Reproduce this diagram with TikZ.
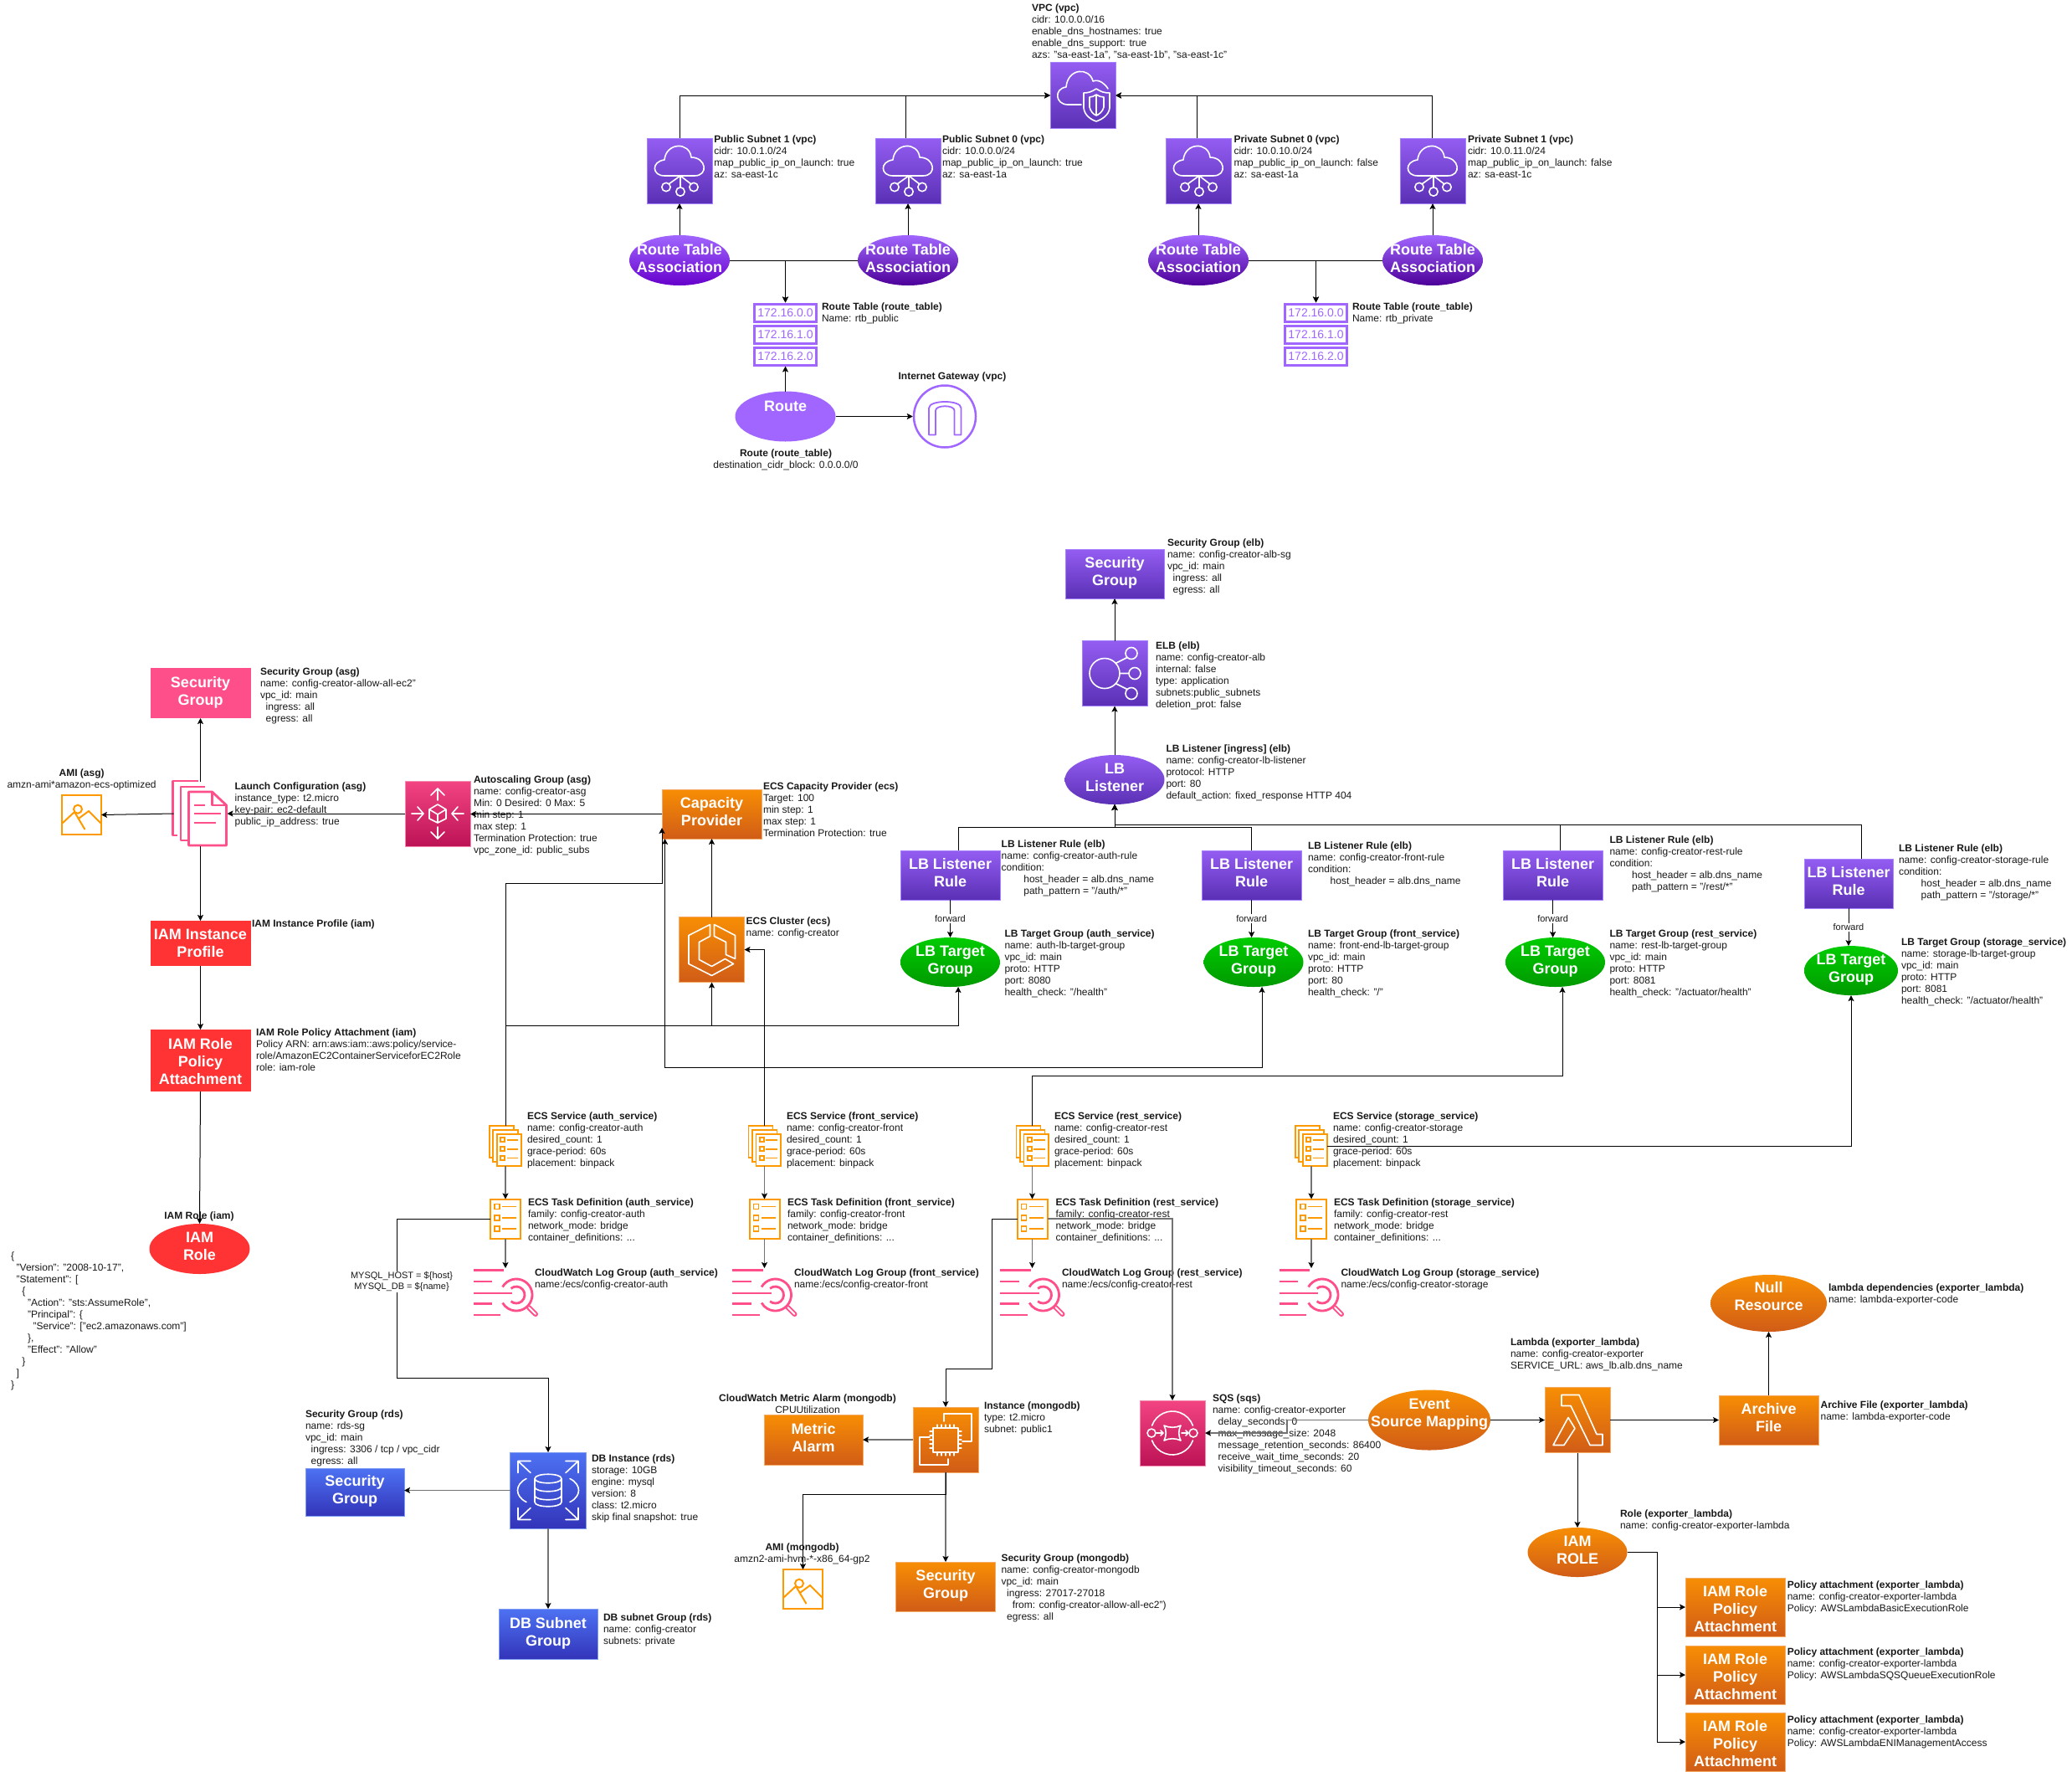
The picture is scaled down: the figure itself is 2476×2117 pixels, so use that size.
\documentclass[tikz,border=0pt]{standalone}
\usepackage{fontspec}
\setmainfont{Liberation Sans}
\usetikzlibrary{arrows.meta,shapes.geometric}
\definecolor{purT}{HTML}{945DF2}\definecolor{purB}{HTML}{5A30B5}\definecolor{purL}{HTML}{A680FF}
\definecolor{purS}{HTML}{A166FF}
\definecolor{asT}{HTML}{A166FF}\definecolor{asB}{HTML}{6600CC}\definecolor{asC}{HTML}{4C0099}
\definecolor{orT}{HTML}{F78E04}\definecolor{orB}{HTML}{D05C17}\definecolor{orL}{HTML}{F5AB66}
\definecolor{piT}{HTML}{F34482}\definecolor{piB}{HTML}{BC1356}\definecolor{piL}{HTML}{F58AB0}
\definecolor{blT}{HTML}{4D72F3}\definecolor{blB}{HTML}{3334B9}\definecolor{blL}{HTML}{7F9CF5}
\definecolor{grT}{HTML}{00CC00}\definecolor{grB}{HTML}{009900}
\definecolor{redS}{HTML}{FF3333}\definecolor{pinkS}{HTML}{FF4F8B}\definecolor{awsO}{HTML}{FF9900}
\newcommand{\ind}{\hspace*{6.67pt}}
\tikzset{
 x=1pt,y=-1pt,
 lbl/.style={anchor=north west,inner sep=0pt,outer sep=0pt,align=left,text=black!90,yshift=-2.5pt,font=\fontsize{12}{14}\selectfont,execute at begin node={\rule{0pt}{10.5pt}}},
 lblc/.style={lbl,anchor=north,align=center},
 stxt/.style={inner sep=0pt,align=center,text=white,font=\fontsize{18}{21}\selectfont\bfseries,yshift=1pt,execute at begin node={\rule{0pt}{13pt}},execute at end node={\rule[-4pt]{0pt}{4pt}}},
 rbox/.style={rectangle,inner sep=0pt,outer sep=0pt},
 ell/.style={ellipse,inner sep=0pt,outer sep=0pt},
 hold/.style={rectangle,inner sep=0pt,outer sep=0pt},
 gpur/.style={top color=purT,bottom color=purB,draw=purL,line width=1pt},
 gass/.style={top color=asT,bottom color=asC},
 gora/.style={top color=orT,bottom color=orB,draw=orL,line width=1pt},
 gpin/.style={top color=piT,bottom color=piB,draw=piL,line width=1pt},
 gblu/.style={top color=blT,bottom color=blB,draw=blL,line width=1pt},
 ggre/.style={top color=grT,bottom color=grB},
 conn/.style={draw=black,line width=1pt,-{Stealth[length=7pt,width=7pt,inset=1.5pt]}},
 gconn/.style={draw=black!55,line width=1.6pt,-{Stealth[length=7pt,width=7pt,inset=1.5pt,color=black]}},
 flab/.style={fill=white,inner sep=1pt,text=black!90,font=\fontsize{11}{13}\selectfont},
 rtb/.style={rectangle,inner sep=0pt,draw=purS,line width=3pt,minimum width=74,minimum height=21,text=purS,font=\fontsize{14}{16}\selectfont},
 gl/.style={draw=white,line width=1.6pt,line join=round,line cap=round},
 ol/.style={draw=awsO,line width=2pt,line join=miter},
 pl/.style={draw=pinkS,line width=2.8pt,line join=round},
 subnetglyph/.pic={
  \draw[gl] (-18,6) .. controls (-33,6) and (-34,-11) .. (-18,-13) .. controls (-16,-34) and (12,-35) .. (14,-16) .. controls (32,-16) and (35,6) .. (18,6) -- cycle;
  \draw[gl] (1,6) -- (-13,16) (1,6) -- (14,16) (1,6) -- (1,19);
  \draw[gl] (-16,19.5) circle (5.2) (17,19.5) circle (5.2) (1,25) circle (5.2);
 },
 vpcglyph/.pic={
  \draw[gl] (-2,11) -- (-18,11) .. controls (-33,11) and (-35,-8) .. (-20,-10) .. controls (-18,-33) and (8,-34) .. (12,-17) .. controls (20,-20) and (27,-13) .. (30,-8);
  \draw[gl] (16,-8) .. controls (10,-4) and (6,-3) .. (1,-3) -- (1,15) .. controls (2,24) and (10,29) .. (16,31) .. controls (22,29) and (31,24) .. (32,15) -- (32,-3) .. controls (26,-3) and (22,-4) .. (16,-8) -- cycle;
  \draw[gl] (16,-1) .. controls (13,1) and (11,2) .. (8,2) -- (8,14) .. controls (9,19) and (13,23) .. (16,24) .. controls (19,23) and (24,19) .. (25,14) -- (25,2) .. controls (22,2) and (19,1) .. (16,-1) -- cycle (16,-1) -- (16,24);
 },
 elbglyph/.pic={
  \draw[gl] (-12,0) circle (18) (20,-24) circle (7) (24,0) circle (7) (20,24) circle (7);
  \draw[gl] (1,-12) -- (15,-19) (6,0) -- (17,0) (1,12) -- (15,19);
 },
 ecsglyph/.pic={
  \draw[gl] (-2,-30) -- (-27.5,-17) -- (-27.5,17) -- (0,31) -- (26,17) -- (16,11) -- (0,20) -- (-15,12) -- (-15,-9) -- (-2,-16) -- cycle;
  \draw[gl] (3,-30) -- (28,-17) -- (28,11) -- (17,6) -- (17,-9) -- (3,-16) -- cycle;
 },
 ec2glyph/.pic={
  \draw[gl] (-2,-22) -- (-2,-31) -- (31,-31) -- (31,2) -- (20,2);
  \draw[gl] (-19,-3) -- (-31,-3) -- (-31,30) -- (3,30) -- (3,23);
  \draw[gl] (-15,-14) rectangle (15,15);
  \foreach \t in {-10,-5,0,5,10}{\draw[gl,line width=1.2pt] (\t,-14) -- (\t,-18) (\t,15) -- (\t,19) (-15,\t) -- (-19,\t) (15,\t) -- (19,\t);}
 },
 rdsglyph/.pic={
  \draw[gl] (-16,-14) .. controls (-16,-21) and (16,-21) .. (16,-14) .. controls (16,-7) and (-16,-7) .. (-16,-14) -- (-16,14) .. controls (-16,21) and (16,21) .. (16,14) -- (16,-14);
  \draw[gl] (-16,-4) .. controls (-16,3) and (16,3) .. (16,-4) (-16,6) .. controls (-16,13) and (16,13) .. (16,6);
  \draw[gl] (-26,-14) .. controls (-40,-7) and (-40,7) .. (-26,14) (26,-14) .. controls (40,-7) and (40,7) .. (26,14);
  \foreach \sx/\sy in {-1/-1,1/-1,-1/1,1/1}{\draw[gl] (\sx*36,\sy*21) -- (\sx*36,\sy*35) -- (\sx*21,\sy*35) (\sx*36,\sy*35) -- (\sx*21,\sy*21);}
 },
 sqsglyph/.pic={
  \draw[gl] (-25,0) circle (5) (25,0) circle (5);
  \draw[gl] (-10,-9) .. controls (-4,-6) and (4,-6) .. (10,-9) .. controls (7,-3) and (7,3) .. (10,9) .. controls (4,6) and (-4,6) .. (-10,9) .. controls (-7,3) and (-7,-3) .. (-10,-9) -- cycle;
  \draw[gl] (-19,0) -- (-11,0) (-14,-3) -- (-11,0) -- (-14,3) (11,0) -- (19,0) (16,-3) -- (19,0) -- (16,3);
  \draw[gl] (200:26) arc (200:340:26) (20:26) arc (20:160:26);
 },
 lambdaglyph/.pic={
  \draw[gl] (-19,-30) -- (2,-30) -- (23,17) -- (30,17) -- (30,30) -- (15,30) -- (-8,-17) -- (-19,-17) -- cycle;
  \draw[gl] (-29,30) -- (-11,-3) -- (-3,10) -- (-16,30) -- cycle;
 },
 asgglyph/.pic={
  \draw[gl] (0,-11) -- (10,-5) -- (10,6) -- (0,11) -- (-10,6) -- (-10,-5) -- cycle (-10,-5) -- (0,1) -- (10,-5) (0,1) -- (0,11);
  \draw[gl] (0,-16) -- (0,-30) (-8,-22) -- (0,-30) -- (8,-22) (0,16) -- (0,30) (-8,22) -- (0,30) -- (8,22);
  \draw[gl] (-31,0) -- (-17,0) (-24,-8) -- (-17,0) -- (-24,8) (31,0) -- (17,0) (24,-8) -- (17,0) -- (24,8);
 },
 docsglyph/.pic={
  \draw[pl] (-2.6,-39) -- (-33,-39) -- (-33,26) -- (-28,26);
  \draw[pl] (5,-32) -- (-23.5,-32) -- (-23.5,32) -- (-14,32);
  \draw[pl,fill=white] (-14,-26) -- (14,-26) -- (31,-10) -- (31,38) -- (-14,38) -- cycle;
  \draw[pl] (14,-26) -- (14,-10) -- (31,-10);
  \draw[pl] (-8,-10) -- (5,-10) (-8,0) -- (24,0) (-8,11) -- (18,11);
 },
 amiglyph/.pic={
  \draw[ol] (-23.5,-23.5) rectangle (23.5,23.5);
  \draw[ol] (-4.5,-6.8) circle (5);
  \draw[ol] (-23,10) -- (-8.5,-3.5) -- (4,17.5) (-3,4) -- (8.5,-4.5) -- (23,10);
 },
 svcglyph/.pic={
  \draw[ol,line width=1.8pt,fill=white] (-19,-24) rectangle (10,14);
  \draw[ol,line width=1.8pt,fill=white] (-14.7,-19) rectangle (15,19);
  \draw[ol,line width=1.8pt,fill=white] (-10,-14) rectangle (19.3,24);
  \foreach \q in {-7.3,3.7,14.5}{\draw[ol,line width=1.6pt] (-5.8,\q-2.5) rectangle (-0.8,\q+2.5) (1.5,\q) -- (15,\q);}
 },
 taskglyph/.pic={
  \draw[ol] (-18,-23.5) rectangle (18,23.5);
  \foreach \q in {-14.5,-1,12}{\draw[ol,line width=1.8pt] (-13,\q-3) rectangle (-7,\q+3) (-4,\q) -- (13,\q);}
 },
 logglyph/.pic={
  \draw[pl] (-38.5,-26.7) -- (-2,-26.7) (-38.5,-13) -- (-16,-13) (-38.5,1) -- (8,1) (-38.5,13.7) -- (-16,13.7) (-38.5,27) -- (-6,27);
  \draw[pl] (13,3) ++(210:19) arc (210:510:19);
  \draw[pl] (13,3) ++(230:10) arc (230:490:10);
  \draw[draw=pinkS,line width=6pt,line cap=round] (28,18) -- (36,26);
  \draw[draw=white,line width=2pt,line cap=round] (28,18) -- (36,26);
 },
 igwglyph/.pic={
  \draw[draw=purS,line width=1.8pt,line join=round] (-19,22) -- (-19,-10) .. controls (-19,-20) and (19.5,-20) .. (19.5,-10) -- (19.5,22) -- (11.5,22) -- (11.5,-7) .. controls (11.5,-14) and (-11,-14) .. (-11,-7) -- (-11,22) -- cycle;
 },
}
\begin{document}
\begin{tikzpicture}
\path[use as bounding box,fill=white] (0,0) rectangle (2476,2117);

% ---------- VPC section
\node[rbox,gpur,minimum width=78,minimum height=78] (vpc) at (1294,114) {};
\pic at (vpc) {vpcglyph};
\foreach \n/\xx in {sub1/812,sub0/1085,pr0/1432,pr1/1712}{
 \node[rbox,gpur,minimum width=78,minimum height=78] (\n) at (\xx,204) {};
 \pic at (\n) {subnetglyph};
}
\node[ell,top color=asT,bottom color=asB,minimum width=120,minimum height=60,label={[stxt]center:Route Table\\Association}] (a1) at (812,311) {};
\node[ell,gass,minimum width=120,minimum height=60,label={[stxt]center:Route Table\\Association}] (a2) at (1085,311) {};
\node[ell,gass,minimum width=120,minimum height=60,label={[stxt]center:Route Table\\Association}] (a3) at (1432,311) {};
\node[ell,gass,minimum width=120,minimum height=60,label={[stxt]center:Route Table\\Association}] (a4) at (1712,311) {};
\node[rtb] (rp0) at (938.5,373.5) {172.16.0.0};
\node[rtb] (rp1) at (938.5,399.5) {172.16.1.0};
\node[rtb] (rp2) at (938.5,425.5) {172.16.2.0};
\node[rtb] (rq0) at (1572.5,373.5) {172.16.0.0};
\node[rtb] (rq1) at (1572.5,399.5) {172.16.1.0};
\node[rtb] (rq2) at (1572.5,425.5) {172.16.2.0};
\node[ell,fill=purS,minimum width=120,minimum height=60,label={[stxt,yshift=10pt]center:Route}] (route) at (938.5,497.5) {};
\node[circle,inner sep=0pt,draw=purS,line width=2.5pt,minimum size=74] (igw) at (1129,497.5) {};
\pic at (igw) {igwglyph};

\node[lbl] (tvpc) at (1233,2) {\textbf{VPC (vpc)}\\cidr: 10.0.0.0/16\\enable\_dns\_hostnames: true\\enable\_dns\_support: true\\azs: "sa-east-1a", "sa-east-1b", "sa-east-1c"};
\node[lbl] (tsub1) at (853.4,159) {\textbf{Public Subnet 1 (vpc)}\\cidr: 10.0.1.0/24\\map\_public\_ip\_on\_launch: true\\az: sa-east-1c};
\node[lbl] (tsub0) at (1126,159) {\textbf{Public Subnet 0 (vpc)}\\cidr: 10.0.0.0/24\\map\_public\_ip\_on\_launch: true\\az: sa-east-1a};
\node[lbl] (tpr0) at (1474.5,159) {\textbf{Private Subnet 0 (vpc)}\\cidr: 10.0.10.0/24\\map\_public\_ip\_on\_launch: false\\az: sa-east-1a};
\node[lbl] (tpr1) at (1754,159) {\textbf{Private Subnet 1 (vpc)}\\cidr: 10.0.11.0/24\\map\_public\_ip\_on\_launch: false\\az: sa-east-1c};
\node[lbl] (trp) at (982,359) {\textbf{Route Table (route\_table)}\\Name: rtb\_public};
\node[lbl] (trq) at (1616,359) {\textbf{Route Table (route\_table)}\\Name: rtb\_private};
\node[lblc,yshift=2.5pt] (tigw) at (1138,443) {\textbf{Internet Gateway (vpc)}};
\node[lblc] (troute) at (939,534) {\textbf{Route (route\_table)}\\destination\_cidr\_block: 0.0.0.0/0};

% ---------- ASG / IAM section
\node[rbox,fill=pinkS,minimum width=120,minimum height=60,label={[stxt]center:Security\\Group}] (sgasg) at (239.5,828) {};
\node[hold,minimum width=47,minimum height=47] (amiasg) at (97.5,973.5) {};
\pic at (amiasg) {amiglyph};
\node[hold,minimum width=64,minimum height=77] (launch) at (239.5,972) {};
\pic at (launch) {docsglyph};
\node[rbox,gpin,minimum width=78,minimum height=78] (asg) at (523,972) {};
\pic at (asg) {asgglyph};
\node[rbox,gora,minimum width=119,minimum height=59,label={[stxt]center:Capacity\\Provider}] (cp) at (850.5,972.5) {};
\node[rbox,gora,minimum width=78,minimum height=78] (cluster) at (850.5,1134.5) {};
\pic at (cluster) {ecsglyph};
\node[rbox,fill=redS,minimum width=120,minimum height=54,label={[stxt,yshift=-3pt]center:IAM Instance\\Profile}] (iamip) at (239.5,1127) {};
\node[rbox,fill=redS,minimum width=120,minimum height=74,label={[stxt,yshift=-4pt]center:IAM Role\\Policy\\Attachment}] (rpa) at (239.5,1267) {};
\node[ell,fill=redS,minimum width=120,minimum height=60,label={[stxt]center:IAM\\Role}] (iamrole) at (238.5,1492) {};

\node[lbl] (tsgasg) at (311,795) {\textbf{Security Group (asg)}\\name: config-creator-allow-all-ec2"\\vpc\_id: main\\\ind ingress: all\\\ind egress: all};
\node[lblc] (tamiasg) at (97.6,916.5) {\textbf{AMI (asg)}\\amzn-ami*amazon-ecs-optimized};
\node[lbl] (tlaunch) at (280.6,932) {\textbf{Launch Configuration (asg)}\\instance\_type: t2.micro\\key-pair: ec2-default\\public\_ip\_address: true};
\node[lbl] (tasg) at (566,924.5) {\textbf{Autoscaling Group (asg)}\\name: config-creator-asg\\Min: 0 Desired: 0 Max: 5\\min step: 1\\max step: 1\\Termination Protection: true\\vpc\_zone\_id: public\_subs};
\node[lbl] (tcp) at (912,932) {\textbf{ECS Capacity Provider (ecs)}\\Target: 100\\min step: 1\\max step: 1\\Termination Protection: true};
\node[lbl] (tcluster) at (891.6,1093) {\textbf{ECS Cluster (ecs)}\\name: config-creator};
\node[lbl,yshift=2.5pt] (tiamip) at (301,1097) {\textbf{IAM Instance Profile (iam)}};
\node[lbl] (trpa) at (306,1226.5) {\textbf{IAM Role Policy Attachment (iam)}\\Policy ARN: arn:aws:iam::aws:policy/service-\\role/AmazonEC2ContainerServiceforEC2Role\\role: iam-role};
\node[lblc,yshift=2.5pt] (tiamrole) at (238,1446) {\textbf{IAM Role (iam)}};
\node[lbl] (tjson) at (13,1493) {\{\\\ind "Version": "2008-10-17",\\\ind "Statement": [\\\ind\ind \{\\\ind\ind\ind "Action": "sts:AssumeRole",\\\ind\ind\ind "Principal": \{\\\ind\ind\ind\ind "Service": ["ec2.amazonaws.com"]\\\ind\ind\ind \},\\\ind\ind\ind "Effect": "Allow"\\\ind\ind \}\\\ind ]\\\}};

% ---------- LB section
\node[rbox,gpur,minimum width=118,minimum height=59,label={[stxt]center:Security\\Group}] (sgelb) at (1332,685.5) {};
\node[rbox,gpur,minimum width=78,minimum height=78] (elb) at (1332,804.5) {};
\pic at (elb) {elbglyph};
\node[ell,top color=purT,bottom color=purB,minimum width=119,minimum height=59,label={[stxt]center:LB\\Listener}] (listener) at (1332,931.5) {};
\node[rbox,gpur,minimum width=119,minimum height=59,label={[stxt]center:LB Listener\\Rule}] (ruleauth) at (1135.5,1045.5) {};
\node[rbox,gpur,minimum width=119,minimum height=59,label={[stxt]center:LB Listener\\Rule}] (rulefront) at (1495.6,1045.5) {};
\node[rbox,gpur,minimum width=119,minimum height=59,label={[stxt]center:LB Listener\\Rule}] (rulerest) at (1855.6,1045.5) {};
\node[rbox,gpur,minimum width=106,minimum height=59,label={[stxt]center:LB Listener\\Rule}] (rulest) at (2209,1055.5) {};
\node[ell,ggre,minimum width=119,minimum height=59,label={[stxt]center:LB Target\\Group}] (tgauth) at (1135.5,1149.5) {};
\node[ell,ggre,minimum width=119,minimum height=59,label={[stxt]center:LB Target\\Group}] (tgfront) at (1498,1149.5) {};
\node[ell,ggre,minimum width=119,minimum height=59,label={[stxt]center:LB Target\\Group}] (tgrest) at (1858.5,1149.5) {};
\node[ell,ggre,minimum width=112,minimum height=59,label={[stxt]center:LB Target\\Group}] (tgst) at (2212,1159.6) {};

\node[lbl] (tsgelb) at (1395,641.7) {\textbf{Security Group (elb)}\\name: config-creator-alb-sg\\vpc\_id: main\\\ind ingress: all\\\ind egress: all};
\node[lbl] (telb) at (1381,764) {\textbf{ELB (elb)}\\name: config-creator-alb\\internal: false\\type: application\\subnets:public\_subnets\\deletion\_prot: false};
\node[lbl] (tlistener) at (1393.5,887.7) {\textbf{LB Listener [ingress] (elb)}\\name: config-creator-lb-listener\\protocol: HTTP\\port: 80\\default\_action: fixed\_response HTTP 404};
\node[lbl] (truleauth) at (1196.7,1001.5) {\textbf{LB Listener Rule (elb)}\\name: config-creator-auth-rule\\condition:\\\ind\ind\ind\ind host\_header = alb.dns\_name\\\ind\ind\ind\ind path\_pattern = "/auth/*"};
\node[lbl] (trulefront) at (1563,1003.7) {\textbf{LB Listener Rule (elb)}\\name: config-creator-front-rule\\condition:\\\ind\ind\ind\ind host\_header = alb.dns\_name};
\node[lbl] (trulerest) at (1923.5,996.6) {\textbf{LB Listener Rule (elb)}\\name: config-creator-rest-rule\\condition:\\\ind\ind\ind\ind host\_header = alb.dns\_name\\\ind\ind\ind\ind path\_pattern = "/rest/*"};
\node[lbl] (trulest) at (2269,1006.4) {\textbf{LB Listener Rule (elb)}\\name: config-creator-storage-rule\\condition:\\\ind\ind\ind\ind host\_header = alb.dns\_name\\\ind\ind\ind\ind path\_pattern = "/storage/*"};
\node[lbl] (ttgauth) at (1200.5,1108.6) {\textbf{LB Target Group (auth\_service)}\\name: auth-lb-target-group\\vpc\_id: main\\proto: HTTP\\port: 8080\\health\_check: "/health"};
\node[lbl] (ttgfront) at (1563,1108.6) {\textbf{LB Target Group (front\_service)}\\name: front-end-lb-target-group\\vpc\_id: main\\proto: HTTP\\port: 80\\health\_check: "/"};
\node[lbl] (ttgrest) at (1923.5,1108.6) {\textbf{LB Target Group (rest\_service)}\\name: rest-lb-target-group\\vpc\_id: main\\proto: HTTP\\port: 8081\\health\_check: "/actuator/health"};
\node[lbl] (ttgst) at (2272,1118.5) {\textbf{LB Target Group (storage\_service)}\\name: storage-lb-target-group\\vpc\_id: main\\proto: HTTP\\port: 8081\\health\_check: "/actuator/health"};

% ---------- ECS services
\foreach \n/\xs in {auth/604,front/913.5,rest/1233.5,st/1567}{
 \node[hold,minimum width=38,minimum height=48] (svc\n) at (\xs,1369) {};
 \pic at (svc\n) {svcglyph};
 \node[hold,minimum width=36,minimum height=47] (task\n) at (\xs,1456) {};
 \pic at (task\n) {taskglyph};
 \node[hold,minimum width=77,minimum height=58] (log\n) at (\xs,1544) {};
 \pic at (log\n) {logglyph};
}
\node[lbl] (tsvcauth) at (630,1326) {\textbf{ECS Service (auth\_service)}\\name: config-creator-auth\\desired\_count: 1\\grace-period: 60s\\placement: binpack};
\node[lbl] (tsvcfront) at (940,1326) {\textbf{ECS Service (front\_service)}\\name: config-creator-front\\desired\_count: 1\\grace-period: 60s\\placement: binpack};
\node[lbl] (tsvcrest) at (1260,1326) {\textbf{ECS Service (rest\_service)}\\name: config-creator-rest\\desired\_count: 1\\grace-period: 60s\\placement: binpack};
\node[lbl] (tsvcst) at (1593,1326) {\textbf{ECS Service (storage\_service)}\\name: config-creator-storage\\desired\_count: 1\\grace-period: 60s\\placement: binpack};
\node[lbl] (ttaskauth) at (631,1429.5) {\textbf{ECS Task Definition (auth\_service)}\\family: config-creator-auth\\network\_mode: bridge\\container\_definitions: ...};
\node[lbl] (ttaskfront) at (941,1429.5) {\textbf{ECS Task Definition (front\_service)}\\family: config-creator-front\\network\_mode: bridge\\container\_definitions: ...};
\node[lbl] (ttaskrest) at (1261.5,1429.5) {\textbf{ECS Task Definition (rest\_service)}\\family: config-creator-rest\\network\_mode: bridge\\container\_definitions: ...};
\node[lbl] (ttaskst) at (1594,1429.5) {\textbf{ECS Task Definition (storage\_service)}\\family: config-creator-rest\\network\_mode: bridge\\container\_definitions: ...};
\node[lbl] (tlogauth) at (639,1513) {\textbf{CloudWatch Log Group (auth\_service)}\\name:/ecs/config-creator-auth};
\node[lbl] (tlogfront) at (949,1513) {\textbf{CloudWatch Log Group (front\_service)}\\name:/ecs/config-creator-front};
\node[lbl] (tlogrest) at (1269,1513) {\textbf{CloudWatch Log Group (rest\_service)}\\name:/ecs/config-creator-rest};
\node[lbl] (tlogst) at (1602.5,1513) {\textbf{CloudWatch Log Group (storage\_service)}\\name:/ecs/config-creator-storage};

% ---------- bottom section
\node[rbox,gblu,minimum width=91,minimum height=91] (db) at (655,1780.5) {};
\pic at (db) {rdsglyph};
\node[rbox,gblu,minimum width=118,minimum height=57,label={[stxt]center:Security\\Group}] (sgrds) at (424,1782.5) {};
\node[rbox,gblu,minimum width=118,minimum height=60,label={[stxt]center:DB Subnet\\Group}] (dbsub) at (655,1952) {};
\node[rbox,gora,minimum width=118,minimum height=60,label={[stxt]center:Metric\\Alarm}] (alarm) at (972,1720) {};
\node[rbox,gora,minimum width=78,minimum height=78] (inst) at (1130,1720) {};
\pic at (inst) {ec2glyph};
\node[rbox,gora,minimum width=119,minimum height=59,label={[stxt]center:Security\\Group}] (sgm) at (1130,1895.5) {};
\node[hold,minimum width=47,minimum height=47] (amim) at (959.5,1898.5) {};
\pic at (amim) {amiglyph};
\node[rbox,gpin,minimum width=78,minimum height=78] (sqs) at (1401,1712) {};
\pic at (sqs) {sqsglyph};
\node[ell,top color=orT,bottom color=orB,minimum width=146,minimum height=72,label={[stxt,yshift=6pt]center:Event\\Source Mapping}] (esm) at (1708,1696.5) {};
\node[rbox,gora,minimum width=78,minimum height=78] (lambda) at (1885,1696.5) {};
\pic at (lambda) {lambdaglyph};
\node[rbox,gora,minimum width=119,minimum height=59,label={[stxt]center:Archive\\File}] (archive) at (2113.5,1696.5) {};
\node[ell,top color=orT,bottom color=orB,minimum width=139,minimum height=68,label={[stxt,yshift=6pt]center:Null\\Resource}] (null) at (2113.5,1557) {};
\node[ell,top color=orT,bottom color=orB,minimum width=119,minimum height=59,label={[stxt]center:IAM\\ROLE}] (role) at (1885,1854.5) {};
\node[rbox,gora,minimum width=119,minimum height=70,label={[stxt,yshift=-5pt]center:IAM Role\\Policy\\Attachment}] (att1) at (2073.5,1920) {};
\node[rbox,gora,minimum width=119,minimum height=70,label={[stxt,yshift=-5pt]center:IAM Role\\Policy\\Attachment}] (att2) at (2073.5,2001) {};
\node[rbox,gora,minimum width=119,minimum height=70,label={[stxt,yshift=-5pt]center:IAM Role\\Policy\\Attachment}] (att3) at (2073.5,2081) {};

\node[lbl] (tdb) at (707,1735) {\textbf{DB Instance (rds)}\\storage: 10GB\\engine: mysql\\version: 8\\class: t2.micro\\skip final snapshot: true};
\node[lbl] (tsgrds) at (365,1682) {\textbf{Security Group (rds)}\\name: rds-sg\\vpc\_id: main\\\ind ingress: 3306 / tcp / vpc\_cidr\\\ind egress: all};
\node[lbl] (tdbsub) at (721,1925.6) {\textbf{DB subnet Group (rds)}\\name: config-creator\\subnets: private};
\node[lblc] (talarm) at (965,1663) {\textbf{CloudWatch Metric Alarm (mongodb)}\\CPUUtilization};
\node[lbl] (tinst) at (1176,1672) {\textbf{Instance (mongodb)}\\type: t2.micro\\subnet: public1};
\node[lbl] (tsgm) at (1196.5,1854.7) {\textbf{Security Group (mongodb)}\\name: config-creator-mongodb\\vpc\_id: main\\\ind ingress: 27017-27018\\\ind\ind from: config-creator-allow-all-ec2")\\\ind egress: all};
\node[lblc] (tamim) at (958.5,1841.7) {\textbf{AMI (mongodb)}\\amzn2-ami-hvm-*-x86\_64-gp2};
\node[lbl] (tsqs) at (1449,1663.5) {\textbf{SQS (sqs)}\\name: config-creator-exporter\\\ind delay\_seconds: 0\\\ind max\_message\_size: 2048\\\ind message\_retention\_seconds: 86400\\\ind receive\_wait\_time\_seconds: 20\\\ind visibility\_timeout\_seconds: 60};
\node[lbl] (tlambda) at (1805,1596) {\textbf{Lambda (exporter\_lambda)}\\name: config-creator-exporter\\SERVICE\_URL: aws\_lb.alb.dns\_name};
\node[lbl] (tarchive) at (2175.6,1671) {\textbf{Archive File (exporter\_lambda)}\\name: lambda-exporter-code};
\node[lbl] (tnull) at (2185,1531.6) {\textbf{lambda dependencies (exporter\_lambda)}\\name: lambda-exporter-code};
\node[lbl] (trole) at (1936,1801.6) {\textbf{Role (exporter\_lambda)}\\name: config-creator-exporter-lambda};
\node[lbl] (tatt1) at (2135.8,1886) {\textbf{Policy attachment (exporter\_lambda)}\\name: config-creator-exporter-lambda\\Policy: AWSLambdaBasicExecutionRole};
\node[lbl] (tatt2) at (2135.8,1966.7) {\textbf{Policy attachment (exporter\_lambda)}\\name: config-creator-exporter-lambda\\Policy: AWSLambdaSQSQueueExecutionRole};
\node[lbl] (tatt3) at (2135.8,2047) {\textbf{Policy attachment (exporter\_lambda)}\\name: config-creator-exporter-lambda\\Policy: AWSLambdaENIManagementAccess};

% ---------- bend points
\coordinate (bauth) at (791,1055.6);
\coordinate (bcl) at (850.5,1225.6);
\coordinate (btga) at (1145,1225.6);
\coordinate (bcp) at (794.6,1275);
\coordinate (btgf) at (1508,1275);
\coordinate (btgr) at (1867,1285.6);
\coordinate (bmy) at (474.5,1646);
\coordinate (binst) at (1185,1635.6);
\coordinate (bami) at (1130,1785.7);
\coordinate (besm) at (1538,1696.5);
\coordinate (bbus) at (1980,1854.5);
\coordinate (bl1) at (1332,988.3);
\coordinate (bl2) at (1332,985.6);

% ---------- connectors
\draw[conn] (sub1.north) |- (vpc.west);
\draw[conn] ([xshift=-3pt]sub0.north) |- (vpc.west);
\draw[conn] ([xshift=-1.5pt]pr0.north) |- (vpc.east);
\draw[conn] ([xshift=-1pt]pr1.north) |- (vpc.east);
\draw[conn] (a1) -- (sub1);
\draw[conn] (a2) -- (sub0);
\draw[conn] (a3) -- (pr0);
\draw[conn] (a4) -- (pr1);
\draw[conn] (a1.east) -| (rp0.north);
\draw[conn] (a2.west) -| (rp0.north);
\draw[conn] (a3.east) -| (rq0.north);
\draw[conn] (a4.west) -| (rq0.north);
\draw[conn] (route.north) -- (rp2.south);
\draw[conn] (route.east) -- (igw.west);

\draw[conn] (launch.north) -- (sgasg.south);
\draw[conn] (launch.west) -- (amiasg.east);
\draw[conn] (asg.west) -- (launch.east);
\draw[conn] (cp.west) -- (cp.west -| asg.east);
\draw[conn] (launch.south) -- (iamip.north);
\draw[conn] (iamip.south) -- (rpa.north);
\draw[conn] (rpa.south) -- (iamrole.north);
\draw[conn] (cluster.north) -- (cp.south);

\draw[conn] (elb.north) -- (sgelb.south);
\draw[conn] (listener.north) -- (elb.south);
\draw[conn] ([xshift=9.5pt]ruleauth.north) |- (bl1) -- (listener.south);
\draw[conn] (rulefront.north) |- (bl1) -- (listener.south);
\draw[conn] ([xshift=8.4pt]rulerest.north) |- (bl2) -- (listener.south);
\draw[conn] ([xshift=15pt]rulest.north) |- (bl2) -- (listener.south);
\draw[conn] (ruleauth.south) -- node[flab] (fw1) {forward} (tgauth.north);
\draw[conn] (rulefront.south) -- node[flab] (fw2) {forward} (rulefront.south |- tgfront.north);
\draw[conn] (rulerest.south) -- node[flab] (fw3) {forward} (rulerest.south |- tgrest.north);
\draw[conn] (rulest.south) -- node[flab] (fw4) {forward} (rulest.south |- tgst.north);

\draw[conn] (svcauth.north) |- (bauth) -- ([yshift=13pt]cp.south west);
\draw[conn] (svcauth.north) |- (bcl) -- (cluster.south);
\draw[conn] (svcauth.north) |- (btga) -- ([xshift=9.5pt]tgauth.south);
\draw[conn] (svcfront.north) |- (cluster.east);
\draw[conn] (svcfront.north) |- (bcp) -- ([xshift=3.6pt]cp.south west);
\draw[conn] (svcfront.north) |- (btgf) -- ([xshift=10pt]tgfront.south);
\draw[conn] (svcrest.north) |- (btgr) -- ([xshift=8.5pt]tgrest.south);
\draw[conn] (svcst.east) -| (tgst.south);

\foreach \n in {auth,front,rest,st}{
 \draw[gconn] (svc\n.south) -- (task\n.north);
 \draw[gconn] (task\n.south) -- (log\n.north);
}
\draw[conn] (taskauth.west) -| (bmy) -| (db.north);
\node[flab,align=center] (mysql) at (480,1531.5) {MYSQL\_HOST = \$\{host\}\\MYSQL\_DB = \$\{name\}};
\draw[conn] (taskrest.west) -| (binst) -| (inst.north);
\draw[gconn] (taskrest.east) -| (sqs.north);
\draw[gconn] (db.west) -- (db.west -| sgrds.east);
\draw[gconn] (db.south) -- (dbsub.north);
\draw[gconn] (inst.west) -- (alarm.east);
\draw[gconn] (inst.south) -- (sgm.north);
\draw[conn] (inst.south) -- (bami) -| (amim.north);
\draw[gconn] (esm.west) -- (besm) |- (sqs.east);
\draw[conn] (esm.east) -- (lambda.west);
\draw[conn] (lambda.east) -- (archive.west);
\draw[conn] (archive.north) -- (null.south);
\draw[conn] (lambda.south) -- (role.north);
\draw[conn] (role.east) -- (bbus) |- (att1.west);
\draw[conn] (role.east) -- (bbus) |- (att2.west);
\draw[conn] (role.east) -- (bbus) |- (att3.west);
\end{tikzpicture}
\end{document}
